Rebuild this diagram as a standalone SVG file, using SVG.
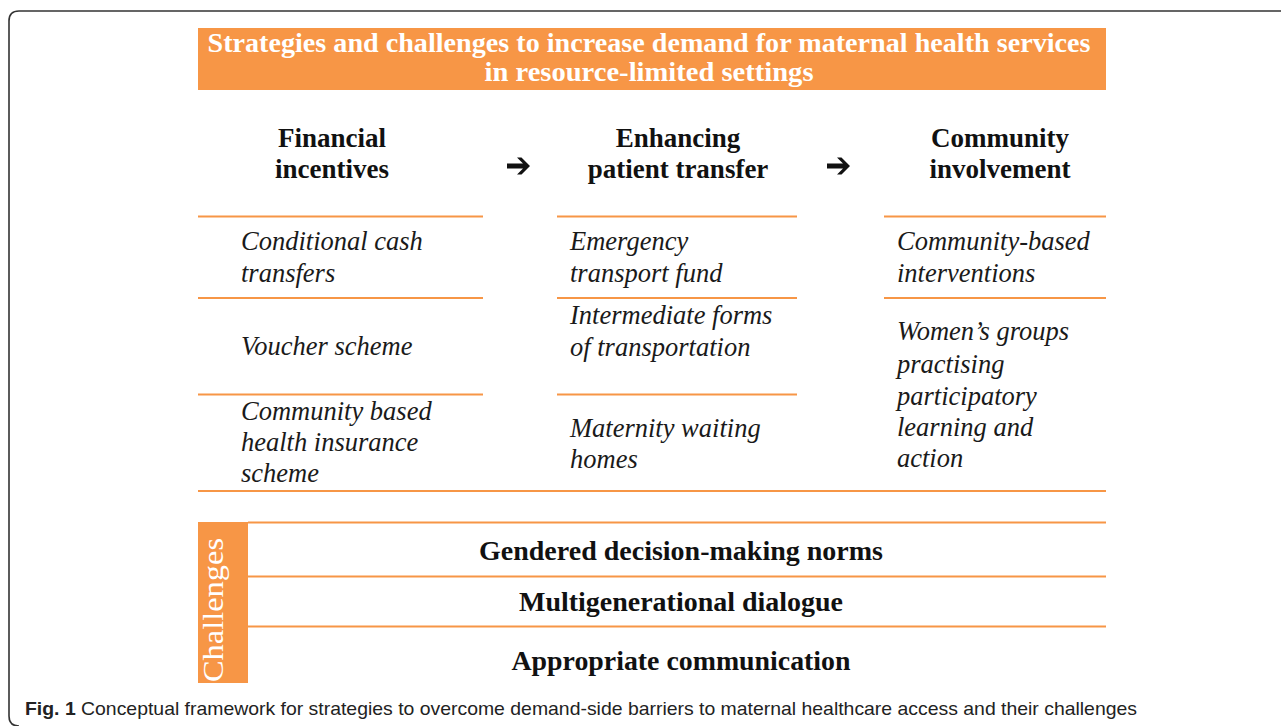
<svg xmlns="http://www.w3.org/2000/svg" width="1281" height="726" viewBox="0 0 1281 726">
<style>
.rule{stroke:#F79646;stroke-width:2.2;fill:none}
.hd{font-family:"Liberation Serif",serif;font-weight:bold;font-size:27px;fill:#111;text-anchor:middle}
.it{font-family:"Liberation Serif",serif;font-style:italic;font-size:26.5px;fill:#1a1a1a}
.ch{font-family:"Liberation Serif",serif;font-weight:bold;font-size:27px;fill:#111;text-anchor:middle}
.ttl{font-family:"Liberation Serif",serif;font-weight:bold;font-size:27px;fill:#fff;text-anchor:middle}
.arrow{fill:#111}
</style>
<rect width="1281" height="726" fill="#fff"/>
<path d="M1290 11 H19 Q9 11 9 21 V716 Q9 726 19 726" fill="none" stroke="#333" stroke-width="1.6"/>

<g id="title">
<rect x="198" y="28" width="908" height="62" fill="#F79646"/>
<text class="ttl" x="649" y="52" textLength="883" lengthAdjust="spacingAndGlyphs">Strategies and challenges to increase demand for maternal health services</text>
<text class="ttl" x="649" y="81" textLength="329" lengthAdjust="spacingAndGlyphs">in resource-limited settings</text>
</g>

<g id="financial">
<text class="hd" x="332" y="147">Financial</text>
<text class="hd" x="332" y="178">incentives</text>
<line class="rule" x1="198" y1="216.5" x2="483" y2="216.5"/>
<text class="it" x="241" y="250">Conditional cash</text>
<text class="it" x="241" y="282">transfers</text>
<line class="rule" x1="198" y1="298" x2="483" y2="298"/>
<text class="it" x="241" y="355">Voucher scheme</text>
<line class="rule" x1="198" y1="394.5" x2="483" y2="394.5"/>
<text class="it" x="241" y="420">Community based</text>
<text class="it" x="241" y="451">health insurance</text>
<text class="it" x="241" y="482">scheme</text>
</g>

<g id="transfer">
<text class="hd" x="678" y="147">Enhancing</text>
<text class="hd" x="678" y="178">patient transfer</text>
<line class="rule" x1="557" y1="216.5" x2="797" y2="216.5"/>
<text class="it" x="570" y="250">Emergency</text>
<text class="it" x="570" y="282">transport fund</text>
<line class="rule" x1="557" y1="298" x2="797" y2="298"/>
<text class="it" x="570" y="324">Intermediate forms</text>
<text class="it" x="570" y="356">of transportation</text>
<line class="rule" x1="557" y1="394.5" x2="797" y2="394.5"/>
<text class="it" x="570" y="437">Maternity waiting</text>
<text class="it" x="570" y="468">homes</text>
</g>

<g id="community">
<text class="hd" x="1000" y="147">Community</text>
<text class="hd" x="1000" y="178">involvement</text>
<line class="rule" x1="884" y1="216.5" x2="1106" y2="216.5"/>
<text class="it" x="897" y="250">Community-based</text>
<text class="it" x="897" y="282">interventions</text>
<line class="rule" x1="884" y1="298" x2="1106" y2="298"/>
<text class="it" x="897" y="340">Women’s groups</text>
<text class="it" x="897" y="373">practising</text>
<text class="it" x="897" y="405">participatory</text>
<text class="it" x="897" y="436">learning and</text>
<text class="it" x="897" y="467">action</text>
</g>

<line class="rule" x1="198" y1="491" x2="1106" y2="491"/>

<g id="connectors">
<path class="arrow" d="M507 163.5 H523 L517 157.5 H521.5 L530 166 L521.5 174.5 H517 L523 168.5 H507 Z"/>
<path class="arrow" d="M827 163.5 H843 L837 157.5 H841.5 L850 166 L841.5 174.5 H837 L843 168.5 H827 Z"/>
</g>

<g id="challenges">
<rect x="198" y="522" width="50" height="161" fill="#F79646"/>
<text x="0" y="0" transform="translate(223 610) rotate(-90)" font-family="Liberation Serif,serif" font-size="30" fill="#fff" text-anchor="middle" textLength="144" lengthAdjust="spacingAndGlyphs">Challenges</text>
<line class="rule" x1="248" y1="522.5" x2="1106" y2="522.5"/>
<text class="ch" x="681" y="560" textLength="404" lengthAdjust="spacingAndGlyphs">Gendered decision-making norms</text>
<line class="rule" x1="248" y1="576.5" x2="1106" y2="576.5"/>
<text class="ch" x="681" y="611" textLength="324" lengthAdjust="spacingAndGlyphs">Multigenerational dialogue</text>
<line class="rule" x1="248" y1="626.5" x2="1106" y2="626.5"/>
<text class="ch" x="681" y="670" textLength="339" lengthAdjust="spacingAndGlyphs">Appropriate communication</text>
</g>

<g id="caption">
<text x="25" y="715" font-family="Liberation Sans,Arial,sans-serif" font-size="19" fill="#222" textLength="1112" lengthAdjust="spacingAndGlyphs"><tspan font-weight="bold">Fig. 1</tspan> Conceptual framework for strategies to overcome demand-side barriers to maternal healthcare access and their challenges</text>
</g>
</svg>
